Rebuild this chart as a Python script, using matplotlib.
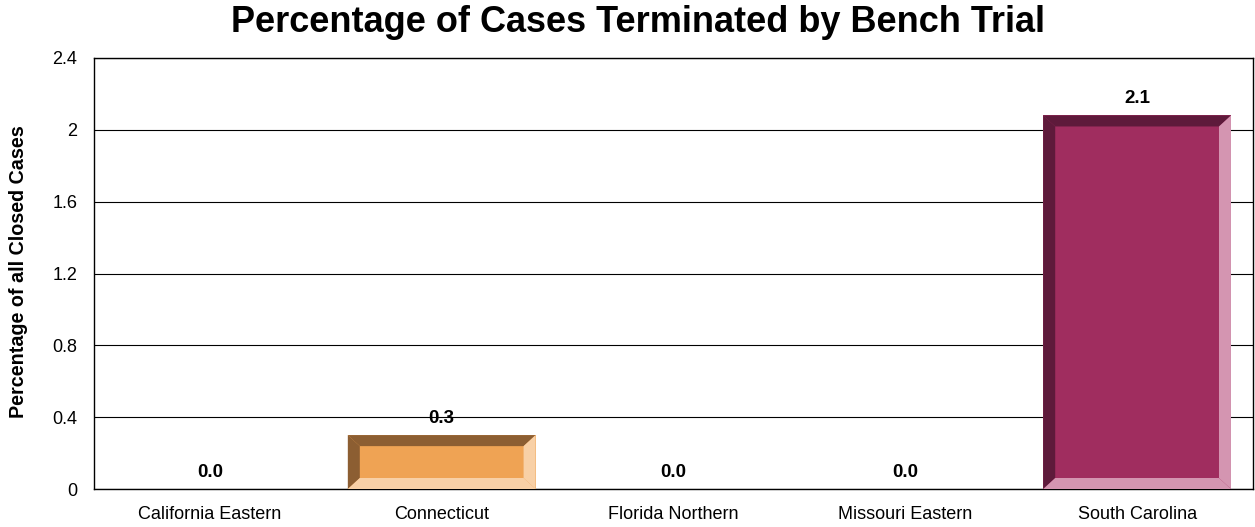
import matplotlib
matplotlib.use("Agg")
import matplotlib.pyplot as plt
from matplotlib.patches import Polygon, Rectangle

plt.rcParams['font.family'] = ['Liberation Sans', 'DejaVu Sans']

categories = ["California Eastern", "Connecticut", "Florida Northern", "Missouri Eastern", "South Carolina"]
values = [0.0, 0.3, 0.0, 0.0, 2.08]
labels = ["0.0", "0.3", "0.0", "0.0", "2.1"]
yticks = [0, 0.4, 0.8, 1.2, 1.6, 2, 2.4]
ytick_labels = ["0", "0.4", "0.8", "1.2", "1.6", "2", "2.4"]

# colours per bar: (face, dark top/left, light bottom/right)
palette = {
    1: ("#EFA354", "#8C5E32", "#F8D0A6"),
    4: ("#A02D5F", "#5E1A3B", "#D495B1"),
}

fig = plt.figure(figsize=(12.55, 5.27), dpi=100)
ax = fig.add_axes([94/1255, 38/527, (1253-94)/1255, (489-58)/527])
ax.set_xlim(-0.5, 4.5)
ax.set_ylim(0, 2.4)

bw = 0.81
bx = 12/232  # bevel width in data units (x)
by = 11/179.6  # bevel height in data units (y)

for i, v in enumerate(values):
    if v <= 0:
        continue
    face, dark, light = palette[i]
    x0, x1 = i - bw/2, i + bw/2
    y0, y1 = 0, v
    ax.add_patch(Rectangle((x0, y0), bw, v, facecolor=face, edgecolor='none', zorder=3))
    ax.add_patch(Polygon([(x0, y1), (x1, y1), (x1 - bx, y1 - by), (x0 + bx, y1 - by)],
                         closed=True, facecolor=dark, edgecolor='none', zorder=4))
    ax.add_patch(Polygon([(x0, y0), (x0, y1), (x0 + bx, y1 - by), (x0 + bx, y0 + by)],
                         closed=True, facecolor=dark, edgecolor='none', zorder=4))
    ax.add_patch(Polygon([(x0, y0), (x1, y0), (x1 - bx, y0 + by), (x0 + bx, y0 + by)],
                         closed=True, facecolor=light, edgecolor='none', zorder=4))
    ax.add_patch(Polygon([(x1, y0), (x1, y1), (x1 - bx, y1 - by), (x1 - bx, y0 + by)],
                         closed=True, facecolor=light, edgecolor='none', zorder=4))

for i, (v, lab) in enumerate(zip(values, labels)):
    ax.annotate(lab, (i, v), xytext=(0, 6), textcoords='offset points',
                ha='center', va='bottom', fontsize=13.5, fontweight='bold', zorder=5)

ax.set_yticks(yticks)
ax.set_yticklabels(ytick_labels, fontsize=13)
ax.set_xticks(range(len(categories)))
ax.set_xticklabels(categories, fontsize=13)
ax.tick_params(axis='both', length=0)
ax.tick_params(axis='x', pad=12)
ax.tick_params(axis='y', pad=12)
ax.yaxis.grid(True, color='black', linewidth=0.8, zorder=1)
ax.set_axisbelow(True)
for s in ax.spines.values():
    s.set_color('black')
    s.set_linewidth(1)

ax.set_ylabel("Percentage of all Closed Cases", fontsize=14.2, fontweight='bold')
ax.yaxis.set_label_coords((28 - 94) / (1253 - 94), (489 - 272) / 431)

fig.suptitle("Percentage of Cases Terminated by Bench Trial", fontsize=26, fontweight='bold',
             x=638/1255, y=1 - 22/527, va='center')

fig.savefig("out.png", dpi=100)
